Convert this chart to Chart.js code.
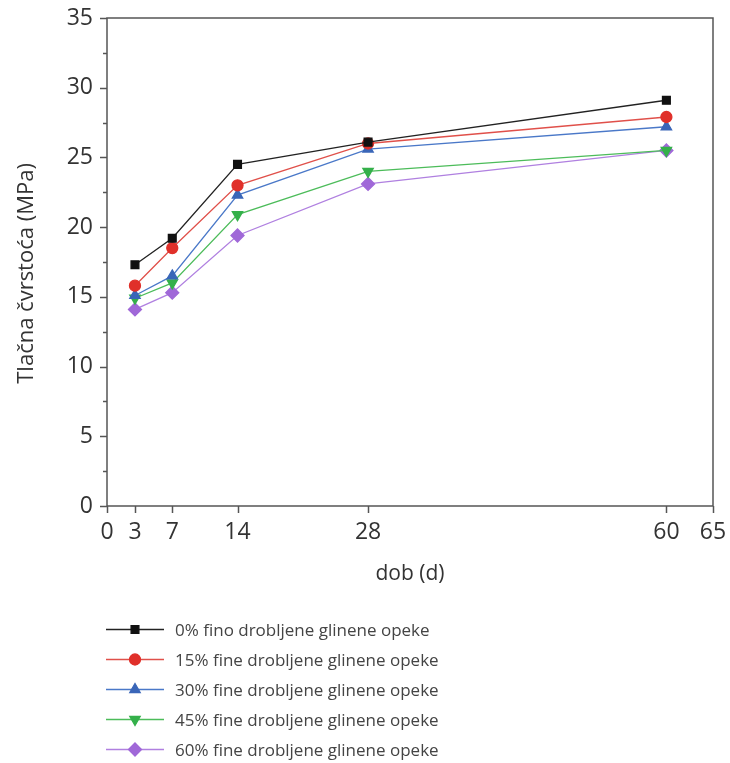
<!DOCTYPE html>
<html>
<head>
<meta charset="utf-8">
<script src="https://cdn.jsdelivr.net/npm/chart.js@4.4.1/dist/chart.umd.min.js"></script>
<style>
  body { margin: 0; background: #fff; font-family: 'Open Sans', sans-serif; }
  #wrap { position: relative; width: 730px; height: 763px; }
  #box { position: absolute; left: 0; top: 0; width: 730px; height: 600px; }
  #legend { position: absolute; left: 106px; top: 614px; }
  .item { display: flex; align-items: center; height: 30px; font-size: 17px; color: #444; }
  .item canvas { margin-right: 11px; }
</style>
</head>
<body>
<div id="wrap">
  <div id="box"><canvas id="grafico"></canvas></div>
  <div id="legend"></div>
</div>
<script>
// --- DATOS ---
const dias = [3, 7, 14, 28, 60];
const ticksX = [0, 3, 7, 14, 28, 60, 65];
const serie0 = [17.3, 19.2, 24.5, 26.1, 29.1];
const serie15 = [15.8, 18.5, 23.0, 26.0, 27.9];
const serie30 = [15.1, 16.5, 22.3, 25.6, 27.2];
const serie45 = [14.9, 16.0, 20.9, 24.0, 25.5];
const serie60 = [14.1, 15.3, 19.4, 23.1, 25.5];
const nombres = [
    '0% fino drobljene glinene opeke',
    '15% fine drobljene glinene opeke',
    '30% fine drobljene glinene opeke',
    '45% fine drobljene glinene opeke',
    '60% fine drobljene glinene opeke'
];

const estilos = [
    { data: serie0, linea: '#222222', punto: '#111111', forma: 'rect', rot: 0, r: 5.5 },
    { data: serie15, linea: '#e0504a', punto: '#e0302a', forma: 'circle', rot: 0, r: 5.5 },
    { data: serie30, linea: '#4a78c8', punto: '#3a66b8', forma: 'triangle', rot: 0, r: 6 },
    { data: serie45, linea: '#4cbc5a', punto: '#34b04a', forma: 'triangle', rot: 180, r: 6 },
    { data: serie60, linea: '#b080e0', punto: '#a068d8', forma: 'rectRot', rot: 0, r: 6.5 }
];

const ejeColor = '#555555';
const textoColor = '#333333';

// marco y marcas de los ejes
const marcoPlugin = {
    id: 'marco',
    afterDraw(chart) {
        const ctx = chart.ctx;
        const { left, right, top, bottom } = chart.chartArea;
        const sy = chart.scales.y;
        const sx = chart.scales.x;
        ctx.save();
        ctx.strokeStyle = ejeColor;
        ctx.lineWidth = 1.5;
        ctx.strokeRect(left, top, right - left, bottom - top);
        for (let v = 0; v <= 35; v += 2.5) {
            const y = Math.round(sy.getPixelForValue(v)) + 0.5;
            const len = v % 5 === 0 ? 7 : 4;
            ctx.beginPath();
            ctx.moveTo(left - len, y);
            ctx.lineTo(left, y);
            ctx.stroke();
        }
        ticksX.forEach(v => {
            const x = Math.round(sx.getPixelForValue(v)) + 0.5;
            ctx.beginPath();
            ctx.moveTo(x, bottom);
            ctx.lineTo(x, bottom + 7);
            ctx.stroke();
        });
        ctx.restore();
    }
};

new Chart(document.getElementById('grafico'), {
    type: 'line',
    data: {
        datasets: estilos.map((e, i) => ({
            label: nombres[i],
            data: dias.map((d, j) => ({ x: d, y: e.data[j] })),
            borderColor: e.linea,
            backgroundColor: e.punto,
            pointBackgroundColor: e.punto,
            pointBorderColor: e.punto,
            pointStyle: e.forma,
            pointRotation: e.rot,
            pointRadius: e.r,
            borderWidth: 1.3,
            tension: 0
        }))
    },
    options: {
        responsive: true,
        maintainAspectRatio: false,
        animation: false,
        layout: { padding: { top: 18, right: 17, left: 0, bottom: 0 } },
        plugins: { legend: { display: false }, tooltip: { enabled: false } },
        scales: {
            x: {
                type: 'linear',
                min: 0, max: 65,
                afterBuildTicks: s => { s.ticks = ticksX.map(v => ({ value: v })); },
                afterFit: s => { s.height = 94; s.paddingLeft = 0; s.paddingRight = 0; },
                grid: { display: false, drawTicks: false },
                border: { display: false },
                ticks: { padding: 13, color: textoColor, font: { family: 'Open Sans', size: 23 }, maxRotation: 0, autoSkip: false },
                title: { display: true, text: 'dob (d)', color: textoColor, font: { family: 'Open Sans', size: 21 }, padding: { top: 0, bottom: 13 } }
            },
            y: {
                min: 0, max: 35,
                afterFit: s => { s.width = 107; s.paddingTop = 0; s.paddingBottom = 0; },
                grid: { display: false, drawTicks: false },
                border: { display: false },
                ticks: { stepSize: 5, padding: 14, color: textoColor, font: { family: 'Open Sans', size: 23 } },
                // los espacios al final bajan un poco el título, como en el original
                title: { display: true, text: 'Tlačna čvrstoća (MPa)\u00a0\u00a0\u00a0\u00a0', color: textoColor, font: { family: 'Open Sans', size: 22 }, padding: { top: 14, bottom: 0 } }
            }
        }
    },
    plugins: [marcoPlugin]
});

// --- LEYENDA ---
const leyenda = document.getElementById('legend');
estilos.forEach((e, i) => {
    const fila = document.createElement('div');
    fila.className = 'item';
    const c = document.createElement('canvas');
    c.width = 58; c.height = 20;
    const g = c.getContext('2d');
    g.strokeStyle = e.linea;
    g.lineWidth = 1.3;
    g.beginPath(); g.moveTo(0, 10.5); g.lineTo(58, 10.5); g.stroke();
    g.fillStyle = e.punto;
    g.strokeStyle = e.punto;
    Chart.helpers.drawPoint(g, { pointStyle: e.forma, radius: e.r, rotation: e.rot, borderWidth: 1 }, 29, 10.5);
    const t = document.createElement('span');
    t.textContent = nombres[i];
    fila.appendChild(c);
    fila.appendChild(t);
    leyenda.appendChild(fila);
});
</script>
</body>
</html>
